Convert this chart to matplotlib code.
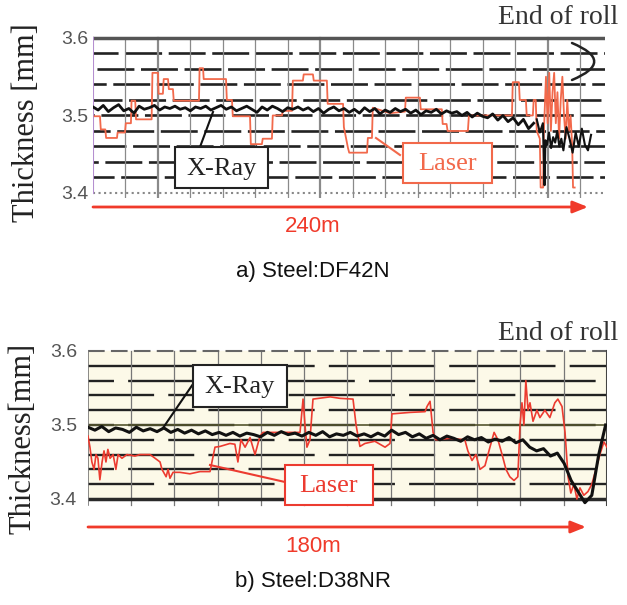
import numpy as np
import matplotlib
matplotlib.use("Agg")
import matplotlib.pyplot as plt
from matplotlib.patches import Rectangle, FancyArrowPatch
from matplotlib.lines import Line2D

W, H = 627, 605

# a) Steel:DF42N  (x in metres along the roll)
xray_a_step = 2.5
xray_a = [3.511, 3.507, 3.513, 3.505, 3.510, 3.514, 3.506, 3.509, 3.503, 3.512, 3.508,
          3.510, 3.513, 3.507, 3.511, 3.509, 3.512, 3.508, 3.510, 3.506, 3.511,
          3.509, 3.512, 3.507, 3.510, 3.513, 3.508, 3.511, 3.506, 3.509, 3.512,
          3.508, 3.504, 3.511, 3.507, 3.512, 3.509, 3.505, 3.510, 3.508, 3.511,
          3.507, 3.510, 3.505, 3.509, 3.503, 3.508, 3.511, 3.506, 3.509, 3.504,
          3.508, 3.503, 3.510, 3.505, 3.509, 3.502, 3.507, 3.504, 3.509, 3.505,
          3.508, 3.503, 3.507, 3.501, 3.506, 3.504, 3.508, 3.502, 3.506, 3.503,
          3.505, 3.500, 3.504, 3.498, 3.503, 3.499, 3.497, 3.502, 3.494, 3.500,
          3.492, 3.497, 3.488, 3.495, 3.483, 3.490]
xray_a_tail_x = [216.5, 218.0, 219.5, 220.3, 220.7, 221.5, 222.5, 223.5, 224.5, 225.5, 226.5, 227.5,
                 228.5, 229.5, 231.0, 232.5, 234.0, 235.5, 237.0, 238.5, 240.0, 241.5, 243.0]
xray_a_tail = [3.495, 3.478, 3.490, 3.410, 3.468, 3.462, 3.478, 3.458, 3.472, 3.465, 3.480, 3.460,
               3.470, 3.455, 3.485, 3.470, 3.452, 3.478, 3.460, 3.483, 3.462, 3.455, 3.475]

laser_a_x = [0.8, 3.4, 3.8, 6.0, 6.4, 11.7, 12.0, 15.6, 16.0, 18.5, 18.8, 20.6, 21.0, 28.6, 29.0,
             31.7, 32.0, 34.1, 34.5, 36.6, 37.0, 39.0, 39.4, 51.7, 52.0, 53.7, 54.0, 64.9, 65.3, 67.8,
             68.2, 76.6, 77.0, 82.4, 82.8, 87.3, 87.7, 92.2, 92.6, 97.1, 97.5, 102.4, 102.8, 107.3, 107.7,
             114.1, 114.5, 122.0, 122.4, 124.4, 125.0, 133.7, 134.1, 136.1, 136.5, 144.9, 152.2, 152.6,
             159.5, 159.9, 170.2, 170.6, 172.5, 173.0, 182.9, 183.4, 204.4, 204.8, 207.8, 208.2, 211.2,
             211.6, 214.6, 215.0, 216.0, 216.5, 218.0, 218.4, 219.6, 220.0, 221.0, 221.8, 222.6, 223.4,
             224.2, 225.0, 225.8, 226.6, 227.4, 228.2, 229.0, 229.8, 230.6, 231.4, 232.2, 233.0, 233.8,
             234.2, 235.0]
laser_a = [3.499, 3.499, 3.482, 3.482, 3.471, 3.471, 3.478, 3.478, 3.490, 3.490, 3.519, 3.519, 3.495,
           3.495, 3.555, 3.555, 3.528, 3.528, 3.547, 3.547, 3.534, 3.534, 3.519, 3.519, 3.561, 3.561,
           3.547, 3.547, 3.520, 3.520, 3.499, 3.499, 3.463, 3.463, 3.470, 3.470, 3.500, 3.500, 3.506,
           3.506, 3.545, 3.545, 3.553, 3.553, 3.545, 3.545, 3.515, 3.515, 3.485, 3.458, 3.452, 3.452,
           3.471, 3.471, 3.510, 3.503, 3.505, 3.523, 3.523, 3.508, 3.508, 3.489, 3.489, 3.480, 3.480,
           3.500, 3.500, 3.543, 3.543, 3.520, 3.520, 3.500, 3.500, 3.520, 3.520, 3.480, 3.470, 3.407,
           3.407, 3.480, 3.550, 3.490, 3.555, 3.480, 3.530, 3.555, 3.490, 3.530, 3.470, 3.520, 3.550,
           3.500, 3.470, 3.520, 3.480, 3.500, 3.460, 3.407, 3.407]

# b) Steel:D38NR
xray_b_step = 2.5
xray_b = [3.497, 3.493, 3.498, 3.491, 3.496, 3.494, 3.490, 3.497, 3.492, 3.495,
          3.491, 3.496, 3.490, 3.494, 3.489, 3.493, 3.488, 3.492, 3.487, 3.490,
          3.486, 3.490, 3.485, 3.489, 3.487, 3.484, 3.490, 3.486, 3.491, 3.487,
          3.489, 3.485, 3.490, 3.486, 3.491, 3.484, 3.488, 3.486, 3.490, 3.485,
          3.488, 3.484, 3.489, 3.485, 3.493, 3.487, 3.490, 3.484, 3.488, 3.482,
          3.486, 3.480, 3.485, 3.482, 3.478, 3.484, 3.480, 3.483, 3.477, 3.481,
          3.478, 3.483, 3.476, 3.480, 3.470, 3.465, 3.468, 3.458, 3.462, 3.448,
          3.425, 3.410, 3.395, 3.405, 3.460, 3.500]

laser_b_x = [0.0, 0.7, 1.4, 2.2, 2.9, 3.6, 4.3, 5.1, 5.8, 6.5, 7.2, 8.0, 9.1, 10.1, 10.9, 12.3, 14.1,
             17.0, 18.8, 22.5, 24.3, 26.1, 26.8, 28.3, 29.0, 29.7, 30.8, 33.3, 36.9, 40.6, 44.2, 44.9,
             46.0, 47.8, 51.4, 53.2, 54.3, 55.4, 56.9, 58.7, 60.5, 62.3, 63.4, 65.9, 69.5, 73.2, 76.8,
             77.9, 78.6, 79.3, 80.4, 81.5, 87.7, 91.3, 96.0, 97.1, 98.5, 100.3, 103.9, 107.6, 109.4,
             110.1, 116.6, 122.1, 122.8, 123.9, 125.0, 126.0, 131.1, 136.5, 137.6, 139.1, 140.5, 142.0,
             143.8, 145.6, 147.1, 148.5, 150.0, 151.4, 152.8, 154.3, 155.7, 156.5, 157.2, 157.9, 158.6,
             159.4, 160.1, 161.2, 162.6, 163.7, 165.5, 167.3, 169.1, 170.2, 171.7, 172.8, 173.9, 174.9,
             176.0, 177.1, 178.2, 179.6, 181.1, 182.5, 184.0, 185.4, 186.9, 188.0]
laser_b = [3.485, 3.470, 3.450, 3.440, 3.460, 3.455, 3.426, 3.450, 3.465, 3.450,
           3.467, 3.455, 3.460, 3.440, 3.460, 3.455, 3.460, 3.458, 3.460, 3.460,
           3.455, 3.450, 3.440, 3.430, 3.440, 3.428, 3.436, 3.436, 3.434, 3.437,
           3.437, 3.450, 3.470, 3.471, 3.475, 3.474, 3.450, 3.480, 3.470, 3.483,
           3.460, 3.485, 3.490, 3.490, 3.490, 3.490, 3.490, 3.535, 3.500, 3.470,
           3.480, 3.535, 3.538, 3.536, 3.535, 3.500, 3.471, 3.475, 3.478, 3.470,
           3.475, 3.515, 3.517, 3.518, 3.525, 3.532, 3.490, 3.480, 3.482, 3.480,
           3.465, 3.452, 3.460, 3.440, 3.445, 3.470, 3.490, 3.480, 3.460, 3.440,
           3.430, 3.425, 3.430, 3.500, 3.530, 3.500, 3.560, 3.520, 3.530, 3.505,
           3.520, 3.510, 3.520, 3.510, 3.530, 3.535, 3.525, 3.490, 3.430, 3.408,
           3.420, 3.400, 3.415, 3.405, 3.410, 3.420, 3.440, 3.460, 3.477, 3.470]

yticks = [3.4, 3.5, 3.6]
ytick_labels = ["3.4", "3.5", "3.6"]

SERIF = "Liberation Serif"
SANS = "Liberation Sans"
LASER_A = "#f2694b"
LASER_B = "#ec3b30"
ARROW = "#f03a2a"


def fx(x):
    return x / W


def fy(y):
    return 1 - y / H


def axes_px(l, t, r, b):
    return fig.add_axes([l / W, 1 - b / H, (r - l) / W, (b - t) / H])


def chart_paper(ax, xmax, vstep, heavy, vcol, lw, dash, shift):
    for k in range(1, 10):
        y = 3.4 + 0.02 * k
        ax.plot([0, xmax], [y, y], color="#222222", lw=lw,
                ls=((k * shift) % sum(dash), dash), zorder=1, solid_capstyle="butt")
    for i, x in enumerate(np.arange(1, 40) * vstep):
        if x >= xmax - 1:
            break
        ax.plot([x, x], [3.392, 3.6], color=vcol, lw=1.6 if i in heavy else 0.9, zorder=1)


def style_axes(ax, pad):
    ax.set_xticks([])
    ax.set_yticks(yticks)
    ax.set_yticklabels(ytick_labels, fontsize=14, color="#555555", family=SANS)
    ax.tick_params(axis="y", length=0, pad=pad)
    for s in ax.spines.values():
        s.set_visible(False)
    ax.patch.set_alpha(0)


def box(l, t, r, b, text, ec, tc):
    fig.add_artist(Rectangle((fx(l), fy(b)), (r - l) / W, (b - t) / H, transform=fig.transFigure,
                             fc="white", ec=ec, lw=1.5, zorder=5))
    fig.text(fx((l + r) / 2), fy((t + b) / 2) - 0.002, text, ha="center", va="center",
             family=SERIF, size=19, color=tc, zorder=6)


def leader(x0, y0, x1, y1, col):
    fig.add_artist(Line2D([fx(x0), fx(x1)], [fy(y0), fy(y1)], transform=fig.transFigure,
                          color=col, lw=1.5, zorder=5))


def arrow(x0, x1, y):
    fig.add_artist(FancyArrowPatch((fx(x0), fy(y)), (fx(x1), fy(y)), transform=fig.transFigure,
                                   arrowstyle="-|>,head_length=0.45,head_width=0.18",
                                   mutation_scale=20, color=ARROW, lw=2, shrinkA=0, shrinkB=0))


fig = plt.figure(figsize=(W / 100, H / 100), dpi=100)

# ---------------- panel a ----------------
ax1 = axes_px(93, 30, 605, 198)
xmax_a = 249.8
ax1.set_xlim(0, xmax_a)
ax1.set_ylim(3.3935, 3.6103)
chart_paper(ax1, xmax_a, 15.85, (1, 6, 13), "#8a8a8a", 1.9, (14, 2.5), 6)
ax1.plot([0, xmax_a], [3.6, 3.6], color="#555555", lw=2.5, zorder=2)
ax1.plot([0, xmax_a], [3.4, 3.4], color="#888888", lw=1.5, ls=":", zorder=2)
ax1.plot([0, 0], [3.4, 3.6], color="#b58fd0", lw=1.5, zorder=2)
ax1.plot(laser_a_x, laser_a, color=LASER_A, lw=1.3, zorder=3)
xa = np.arange(len(xray_a)) * xray_a_step
ax1.plot(xa, xray_a, color="#111111", lw=2.0, zorder=4)
ax1.plot(xray_a_tail_x, xray_a_tail, color="#111111", lw=1.5, zorder=4)
style_axes(ax1, 3)

# ---------------- panel b ----------------
ax2 = axes_px(88, 345, 607, 508)
xmax_b = 188.0
ax2.set_xlim(0, xmax_b)
ax2.set_ylim(3.3878, 3.6081)
ax2.axhspan(3.4, 3.6, color="#fcf9e8", zorder=0)
chart_paper(ax2, xmax_b, 15.66, (), "#777777", 1.7, (45, 6), 17)
ax2.plot([0, xmax_b], [3.6, 3.6], color="#666666", lw=1.5, ls=(0, (8, 3)), zorder=2)
ax2.plot([0, xmax_b], [3.4, 3.4], color="#2a2a2a", lw=2.5, zorder=2)
ax2.plot([0, xmax_b], [3.5, 3.5], color="#55552f", lw=1.2, zorder=2)
ax2.plot([0, 0], [3.392, 3.6], color="#777777", lw=1.2, zorder=2)
ax2.plot([xmax_b, xmax_b], [3.392, 3.6], color="#444444", lw=1.5, zorder=2)
ax2.plot(laser_b_x, laser_b, color=LASER_B, lw=1.2, zorder=3)
xb = np.arange(len(xray_b)) * xray_b_step
ax2.plot(xb, xray_b, color="#111111", lw=2.2, zorder=4)
style_axes(ax2, 8)

# ---------------- annotations ----------------
fig.text(fx(27), fy(123), "Thickness [mm]", rotation=90, ha="center", va="center",
         family=SERIF, size=22, color="#222222")
fig.text(fx(23), fy(438), "Thickness[mm]", rotation=90, ha="center", va="center",
         family=SERIF, size=22, color="#222222")

fig.text(fx(558), fy(17), "End of roll", ha="center", va="center", family=SERIF, size=20, color="#333333")
fig.text(fx(558), fy(334), "End of roll", ha="center", va="center", family=SERIF, size=20, color="#333333")
fig.add_artist(FancyArrowPatch((fx(572), fy(43)), (fx(572), fy(80)), transform=fig.transFigure,
                               connectionstyle="arc3,rad=-1.2", arrowstyle="-", color="#222222",
                               lw=1.8, shrinkA=0, shrinkB=0))

leader(200, 147, 213, 112, "#111111")
box(175, 147, 268, 188, "X-Ray", "#222222", "#222222")
leader(400, 155, 376, 138, LASER_A)
box(403, 143, 492, 183, "Laser", LASER_A, LASER_A)

leader(193, 384, 163, 428, "#111111")
box(193, 365, 287, 407, "X-Ray", "#222222", "#222222")
leader(285, 482, 210, 465, LASER_B)
box(285, 465, 373, 505, "Laser", LASER_B, LASER_B)

arrow(93, 588, 207)
arrow(88, 586, 527)
fig.text(fx(313), fy(226), "240m", ha="center", va="center", family=SANS, size=16, color=ARROW)
fig.text(fx(313), fy(546), "180m", ha="center", va="center", family=SANS, size=16, color=ARROW)

fig.text(fx(313), fy(272), "a) Steel:DF42N", ha="center", va="center", family=SANS, size=16, color="#111111")
fig.text(fx(313), fy(581), "b) Steel:D38NR", ha="center", va="center", family=SANS, size=16, color="#111111")

fig.savefig("out.png", dpi=100)
